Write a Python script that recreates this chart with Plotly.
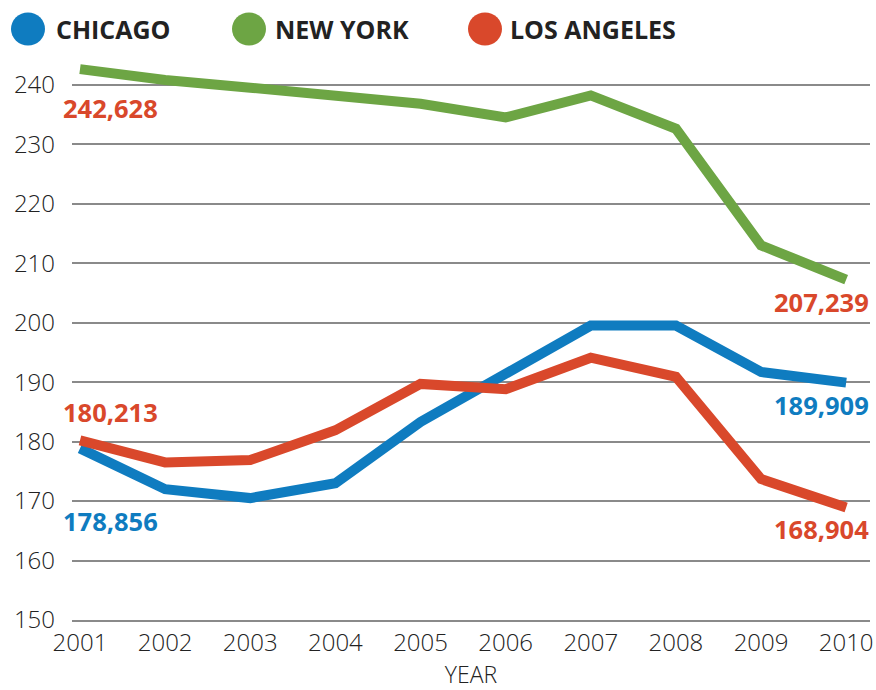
import plotly.graph_objects as go

years = [2001, 2002, 2003, 2004, 2005, 2006, 2007, 2008, 2009, 2010]
chicago = [178.856, 172.0, 170.5, 173.0, 183.3, 191.5, 199.5, 199.5, 191.7, 189.909]
new_york = [242.628, 240.8, 239.5, 238.0, 236.8, 234.5, 238.2, 232.6, 213.0, 207.239]
los_angeles = [180.213, 176.5, 176.9, 181.9, 189.7, 188.8, 194.1, 190.9, 173.7, 168.904]
y_ticks = [150, 160, 170, 180, 190, 200, 210, 220, 230, 240]

BLUE = "#0f7cc0"
GREEN = "#6da544"
RED = "#d9482b"
TEXT = "#222222"
FONT = "Open Sans"

fig = go.Figure()
for name, vals, col in [("CHICAGO", chicago, BLUE), ("NEW YORK", new_york, GREEN),
                        ("LOS ANGELES", los_angeles, RED)]:
    fig.add_trace(go.Scatter(x=years, y=vals, mode="lines", name=name,
                             line=dict(color=col, width=10), showlegend=False))

# value labels: (text, x, y-position, color, side)
labels = [
    ("242,628", 2001, 236.1, RED, "left"),
    ("180,213", 2001, 184.9, RED, "left"),
    ("178,856", 2001, 166.6, BLUE, "left"),
    ("207,239", 2010, 203.4, RED, "right"),
    ("189,909", 2010, 186.2, BLUE, "right"),
    ("168,904", 2010, 165.3, RED, "right"),
]
for txt, x, y, col, side in labels:
    fig.add_annotation(x=x, y=y, xref="x", yref="y", text=txt, showarrow=False,
                       xanchor=side, yanchor="middle",
                       xshift=-19 if side == "left" else 25,
                       font=dict(family=FONT, size=25.5, color=col, weight="bold"))

# custom legend with large circles
L, R, T, B = 72, 870, 55, 620
W, H = R - L, B - T
def px(xp):
    return (xp - L) / W
def py(yp):
    return (B - yp) / H

legend = [("CHICAGO", BLUE, 28, 54), ("NEW YORK", GREEN, 249, 273), ("LOS ANGELES", RED, 485, 508)]
for name, col, cx, tx in legend:
    fig.add_shape(type="circle", xref="paper", yref="paper",
                  xsizemode="pixel", ysizemode="pixel",
                  xanchor=px(cx), yanchor=py(29),
                  x0=-17, x1=17, y0=-16.5, y1=16.5,
                  fillcolor=col, line=dict(width=0))
    fig.add_annotation(x=px(tx), y=py(29), xref="paper", yref="paper", text=name,
                       showarrow=False, xanchor="left", yanchor="middle",
                       font=dict(family=FONT, size=25, color=TEXT, weight="bold"))

fig.update_layout(
    width=876, height=690,
    margin=dict(l=L, r=876 - R, t=T, b=690 - B, autoexpand=False),
    paper_bgcolor="white", plot_bgcolor="white",
    font=dict(family=FONT, size=24, color=TEXT),
    xaxis=dict(range=[2000.906, 2010.28], tickmode="array", tickvals=years,
               ticktext=[str(y) for y in years], showgrid=False, zeroline=False,
               showline=True, linecolor="#8a8a8a", linewidth=1.5, ticks="",
               automargin=False,
               tickfont=dict(size=24, color=TEXT, weight=300),
               title=dict(text="YEAR", font=dict(size=23, color=TEXT, weight=300), standoff=0)),
    yaxis=dict(range=[150, 245], tickmode="array", tickvals=y_ticks,
               showgrid=True, gridcolor="#8a8a8a", gridwidth=1.5, zeroline=False,
               showline=False, ticks="", ticklabelstandoff=16, automargin=False,
               tickfont=dict(size=24, color=TEXT, weight=300)),
)
fig.write_html("out.html", config={"displayModeBar": False},
               post_script="document.body.style.margin='0';document.body.style.overflow='hidden';")
